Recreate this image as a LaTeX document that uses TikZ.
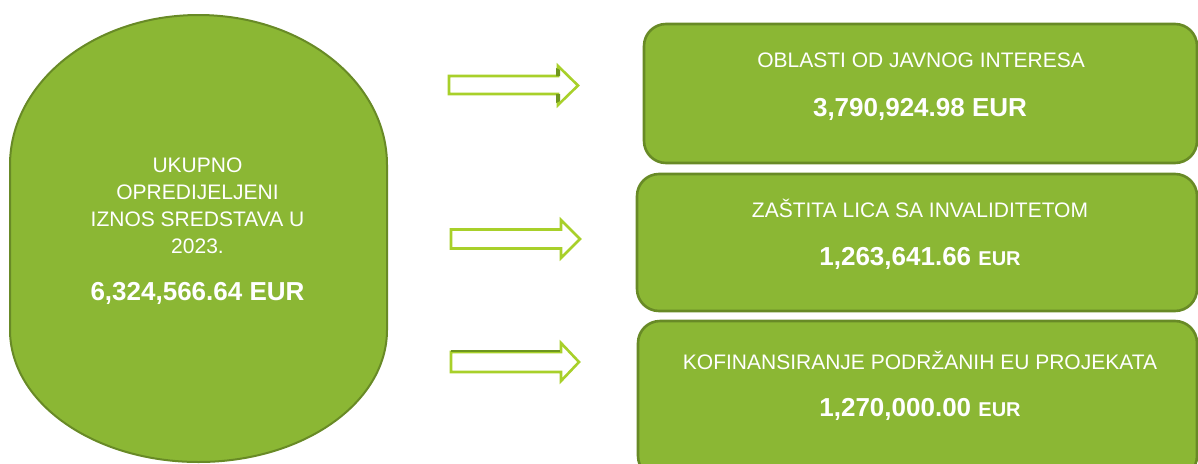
\documentclass[tikz,border=0pt]{standalone}
\usepackage{fontspec}
\setmainfont{Liberation Sans}
\definecolor{boxfill}{RGB}{139,183,52}
\definecolor{boxline}{RGB}{104,138,38}
\definecolor{arrowline}{RGB}{168,208,42}
\definecolor{arrowshade}{RGB}{110,150,30}
\tikzset{
  greenbox/.style={draw=boxline, fill=boxfill, line width=2.6pt, rounded corners=22pt},
  blockarrow/.style={draw=arrowline, fill=white, line width=2.6pt, line join=miter},
  ttl/.style={anchor=base, inner sep=0pt, text=white, font=\fontsize{21}{24}\selectfont},
  amt/.style={anchor=base, inner sep=0pt, text=white, font=\fontsize{26}{30}\selectfont\bfseries},
}
\newcommand{\smalleur}{{\fontsize{20}{24}\selectfont EUR}}
\begin{document}
\begin{tikzpicture}[x=1pt,y=-1pt]
\useasboundingbox (0,0) rectangle (1198,463);
\clip (0,0) rectangle (1198,463);
% left oval
\draw[draw=boxline, fill=boxfill, line width=2pt]
  (10,165) .. controls (10,82) and (94.4,15) .. (198.5,15)
  .. controls (302.6,15) and (387,82) .. (387,165)
  -- (387,330) .. controls (387,403) and (302.6,462) .. (198.5,462)
  .. controls (94.4,462) and (10,403) .. (10,330) -- cycle;
\node[ttl] (o1) at (197.5,172) {UKUPNO};
\node[ttl] (o2) at (197.5,199.5) {OPREDIJELJENI};
\node[ttl] (o3) at (197.5,226.5) {IZNOS SREDSTAVA U};
\node[ttl] (o4) at (197.5,253) {2023.};
\node[amt] (ototal) at (197.5,300) {6,324,566.64 EUR};
% boxes
\draw[greenbox] (644,24) rectangle (1197,163);
\draw[greenbox] (637,174) rectangle (1197,311);
\draw[greenbox] (638,321) rectangle (1197,478);
\node[ttl] (t1) at (921,67) {OBLASTI OD JAVNOG INTERESA};
\node[amt] (a1) at (920,116) {3,790,924.98 EUR};
\node[ttl] (t2) at (920,217) {ZAŠTITA LICA SA INVALIDITETOM};
\node[amt] (a2) at (920,265) {1,263,641.66 \smalleur};
\node[ttl] (t3) at (920,369) {KOFINANSIRANJE PODRŽANIH EU PROJEKATA};
\node[amt] (a3) at (920,416) {1,270,000.00 \smalleur};
% block arrows
\draw[blockarrow] (449,76) -- (558,76) -- (558,66) -- (578,85.5) -- (558,105) -- (558,94) -- (449,94) -- cycle;
\fill[arrowshade] (556,68) -- (560,70) -- (560,76) -- (556,76) -- cycle;
\fill[arrowshade] (556,94) -- (560,94) -- (560,101) -- (556,103) -- cycle;
\draw[blockarrow] (451,229.5) -- (561,229.5) -- (561,220) -- (580,239) -- (561,258) -- (561,248.5) -- (451,248.5) -- cycle;
\draw[blockarrow] (451,352) -- (561,352) -- (561,343) -- (579,362) -- (561,381) -- (561,372) -- (451,372) -- cycle;
\draw[arrowshade, line width=1.2pt] (451,351) -- (560,351);
\end{tikzpicture}
\end{document}
